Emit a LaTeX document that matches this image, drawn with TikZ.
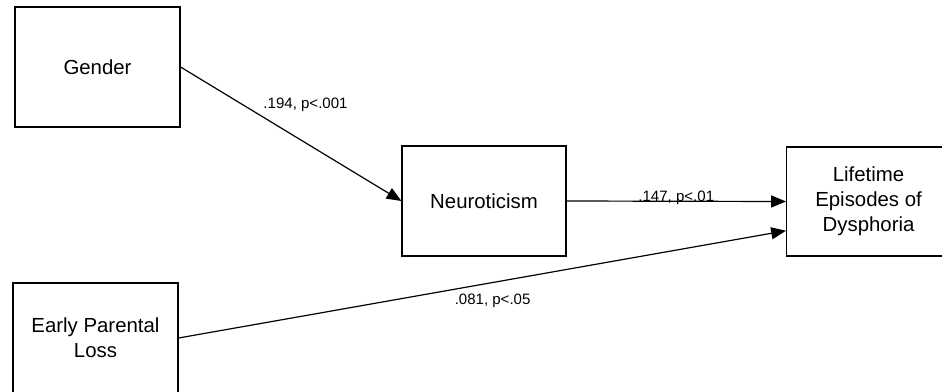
\documentclass[tikz,border=0pt]{standalone}
\usepackage{fontspec}
\setmainfont{Liberation Sans}
\usetikzlibrary{positioning,arrows.meta}

\begin{document}
\begin{tikzpicture}[
  varbox/.style={draw, rectangle, line width=0.8pt, align=center, font=\fontsize{14.5}{17.8}\selectfont},
  link/.style={-{Triangle[length=0.37cm,width=0.3cm]}, line width=0.85pt},
  coef/.style={font=\fontsize{10.7}{12}\selectfont, inner sep=2pt}]
\useasboundingbox (0,0) rectangle (23.55,9.775);
\clip (0,0) rectangle (23.55,9.775);
% Variables
\node[varbox, minimum width=4.125cm, minimum height=3cm] (gender) at (2.4375,8.1) {Gender};
\node[varbox, minimum width=4.1cm, minimum height=2.75cm] (neuro) at (12.1,4.75) {Neuroticism};
\node[varbox, minimum width=4.1cm, minimum height=2.725cm, anchor=west] (life) at (19.65,4.7375) {Lifetime\\Episodes of\\Dysphoria};
\node[varbox, minimum width=4.125cm, minimum height=2.75cm] (loss) at (2.3875,1.325) {Early Parental\\Loss};

% Paths
\draw[link] (gender.east) -- node[coef, pos=0.36, above right] {.194, p<.001} (neuro.west);
\draw[link] (neuro.east) -- node[coef, midway, anchor=base, inner sep=0pt] {.147, p<.01} (life.west);
\draw[link] (loss.east) -- node[coef, pos=0.517, below=0.27cm, inner sep=0pt] {.081, p<.05} ([yshift=-0.73cm]life.west);
\end{tikzpicture}
\end{document}
